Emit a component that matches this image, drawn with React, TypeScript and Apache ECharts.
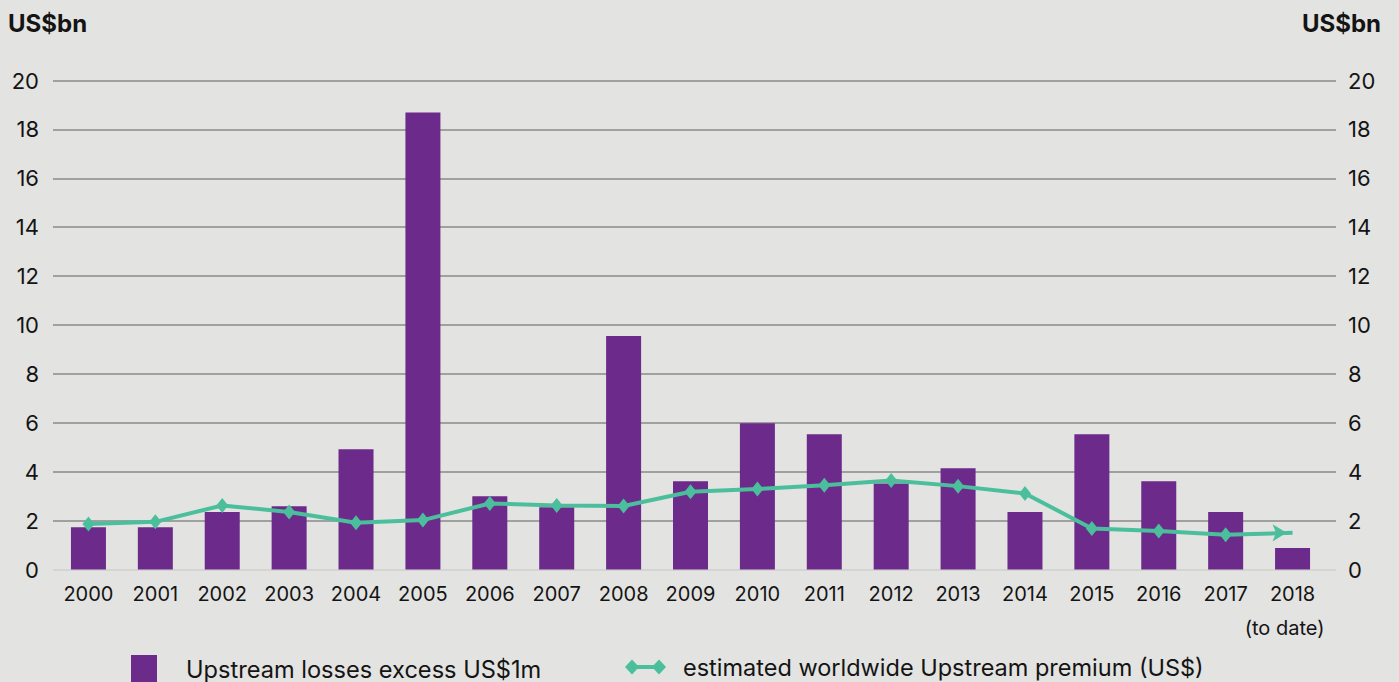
import React, { useEffect, useRef } from "react";
import * as echarts from "echarts";

const years = ["2000", "2001", "2002", "2003", "2004", "2005", "2006", "2007", "2008", "2009", "2010", "2011", "2012", "2013", "2014", "2015", "2016", "2017", "2018"];
const losses = [1.73, 1.73, 2.35, 2.59, 4.92, 18.69, 3.0, 2.55, 9.55, 3.61, 5.98, 5.53, 3.52, 4.14, 2.35, 5.53, 3.61, 2.35, 0.88];
const premium = [1.86, 1.95, 2.62, 2.35, 1.91, 2.02, 2.7, 2.62, 2.6, 3.18, 3.29, 3.45, 3.64, 3.41, 3.11, 1.68, 1.57, 1.42, 1.5];
const yMin = 0;
const yMax = 20;
const yStep = 2;
const lossesName = "Upstream losses excess US$1m";
const premiumName = "estimated worldwide Upstream premium (US$)";
const unitLabel = "US$bn";
const lastNote = "(to date)";

const PURPLE = "#6c2a8b";
const TEAL = "#4bbf9c";
const BG = "#e3e3e1";
const TXT = "#141414";
const FONT = "Inter";

export default function App() {
  const ref = useRef<HTMLDivElement>(null);
  useEffect(() => {
    if (!ref.current) return;
    const chart = echarts.init(ref.current, undefined, { renderer: "svg" });
    const splitColors = ["#cfcfcd"].concat(Array((yMax - yMin) / yStep).fill("#8a8a8a"));
    const lineData = premium.map((v, i) =>
      i === premium.length - 1
        ? { value: v, symbol: "arrow", symbolSize: [13, 14], symbolRotate: -90, symbolOffset: [-6, 0] }
        : v
    );
    chart.setOption({
      animation: false,
      backgroundColor: BG,
      textStyle: { fontFamily: FONT },
      title: [
        { text: unitLabel, left: 8, top: 11, padding: 0, textStyle: { fontFamily: FONT, fontSize: 24, fontWeight: "bold", color: TXT } },
        { text: unitLabel, right: 18, top: 11, padding: 0, textStyle: { fontFamily: FONT, fontSize: 24, fontWeight: "bold", color: TXT } },
      ],
      grid: [
        { left: 53, right: 63, top: 80.5, bottom: 112.5 },
        { left: 55, right: 73, top: 80.5, bottom: 112.5 },
      ],
      legend: [
        {
          data: [lossesName],
          left: 131,
          top: 655,
          padding: 0,
          itemWidth: 26,
          itemHeight: 28,
          icon: "rect",
          textStyle: { fontFamily: FONT, fontSize: 23.6, color: TXT, padding: [0, 0, 0, 24] },
        },
        {
          data: [premiumName],
          left: 625,
          top: 655,
          padding: 0,
          itemWidth: 41,
          itemHeight: 15,
          icon: "path://M0,7.5L7,0L14,7.5L7,15ZM27,7.5L34,0L41,7.5L34,15ZM6,5.5L35,5.5L35,9.5L6,9.5Z",
          textStyle: { fontFamily: FONT, fontSize: 23.5, color: TXT, padding: [0, 0, 0, 12] },
        },
      ],
      xAxis: [
        { type: "value", gridIndex: 0, show: false, min: 0, max: 1 },
        {
          type: "category",
          gridIndex: 1,
          data: years,
          axisLine: { show: false },
          axisTick: { show: false },
          axisLabel: {
            interval: 0,
            margin: 14,
            fontFamily: FONT,
            fontSize: 20,
            color: TXT,
            formatter: (v: string, i: number) => (i === years.length - 1 ? "{a|" + v + "}\n{b|" + lastNote + "}" : v),
            rich: {
              a: { fontFamily: FONT, fontSize: 20, color: TXT, lineHeight: 20 },
              b: { fontFamily: FONT, fontSize: 20, color: TXT, lineHeight: 48, padding: [0, 16, 0, 0] },
            },
          },
        },
      ],
      yAxis: [
        {
          type: "value",
          gridIndex: 0,
          position: "left",
          min: yMin,
          max: yMax,
          interval: yStep,
          axisLine: { show: false },
          axisTick: { show: false },
          axisLabel: { margin: 14, fontFamily: FONT, fontSize: 22, color: TXT },
          splitLine: { show: true, lineStyle: { color: splitColors, width: 1.5 } },
        },
        {
          type: "value",
          gridIndex: 0,
          position: "right",
          min: yMin,
          max: yMax,
          interval: yStep,
          axisLine: { show: false },
          axisTick: { show: false },
          axisLabel: { margin: 12, fontFamily: FONT, fontSize: 22, color: TXT },
          splitLine: { show: false },
        },
        { type: "value", gridIndex: 1, min: yMin, max: yMax, interval: yStep, show: false, splitLine: { show: false } },
      ],
      series: [
        {
          name: lossesName,
          type: "bar",
          xAxisIndex: 1,
          yAxisIndex: 2,
          data: losses,
          barWidth: 35,
          itemStyle: { color: PURPLE },
          z: 2,
        },
        {
          name: premiumName,
          type: "line",
          xAxisIndex: 1,
          yAxisIndex: 2,
          data: lineData,
          symbol: "diamond",
          symbolSize: [12, 15],
          showAllSymbol: true,
          lineStyle: { color: TEAL, width: 4 },
          itemStyle: { color: TEAL },
          z: 3,
        },
      ],
    });
    return () => chart.dispose();
  }, []);
  return <div ref={ref} style={{ position: "fixed", left: 0, top: 0, width: 1399, height: 682 }} />;
}
